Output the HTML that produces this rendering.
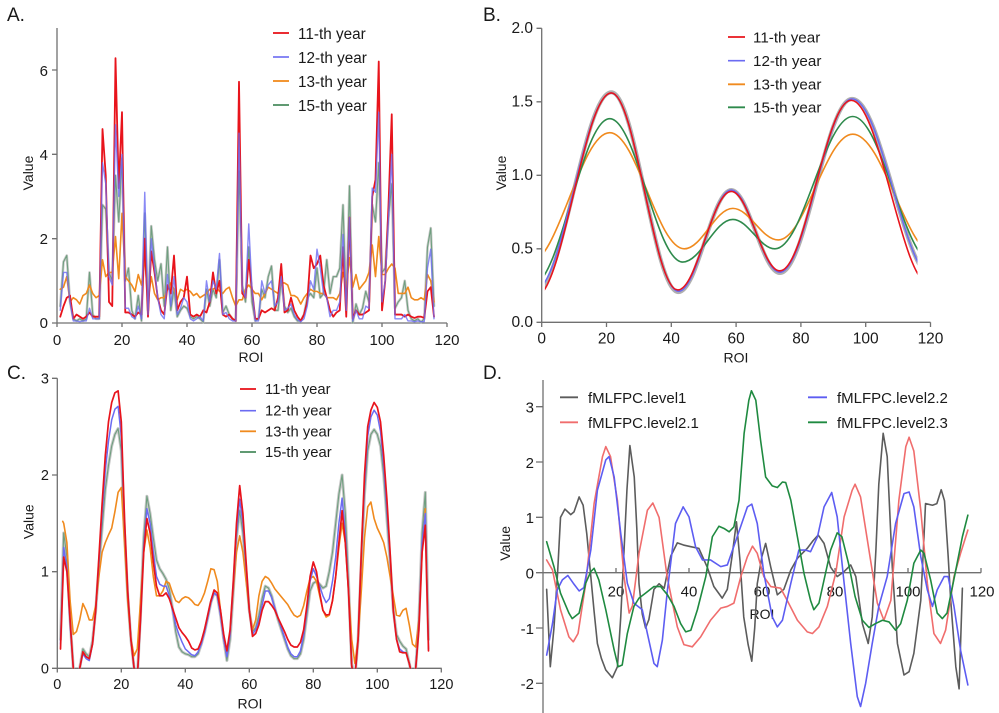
<!DOCTYPE html>
<html><head><meta charset="utf-8"><style>
html,body{margin:0;padding:0;background:#fff;}
svg{display:block;font-family:"Liberation Sans",Arial,sans-serif;fill:#1a1a1a;}
.ax{stroke:#707070;stroke-width:1.3;fill:none;}
.ln{fill:none;stroke-linejoin:round;stroke-linecap:round;vector-effect:non-scaling-stroke;}
</style></head><body>
<svg width="999" height="713" viewBox="0 0 999 713" xmlns="http://www.w3.org/2000/svg">
<defs>
<clipPath id="cA"><rect x="57" y="0" width="395" height="324"/></clipPath>
<clipPath id="cB"><rect x="544.9" y="0" width="372.6" height="330"/></clipPath>
<clipPath id="cC"><rect x="57" y="350" width="390" height="318.5"/></clipPath>
</defs>

<!-- Panel letters -->
<text x="7" y="21" font-size="19">A.</text>
<text x="483" y="21" font-size="19">B.</text>
<text x="7" y="379" font-size="19">C.</text>
<text x="483" y="379" font-size="19">D.</text>

<!-- ================= PANEL A ================= -->
<path class="ax" d="M57,28 V323 H447 M52,323 H57 M52,238.7 H57 M52,154.3 H57 M52,70 H57 M57,323 V327 M122,323 V327 M187,323 V327 M252,323 V327 M317,323 V327 M382,323 V327 M447,323 V327"/>
<g font-size="15" text-anchor="end">
<text x="48" y="328">0</text><text x="48" y="244">2</text><text x="48" y="160">4</text><text x="48" y="76">6</text>
</g>
<g font-size="15" text-anchor="middle">
<text x="57" y="345">0</text><text x="122" y="345">20</text><text x="187" y="345">40</text><text x="252" y="345">60</text><text x="317" y="345">80</text><text x="382" y="345">100</text><text x="447" y="345">120</text>
</g>
<text x="251" y="362" font-size="14" text-anchor="middle">ROI</text>
<text transform="translate(33,173) rotate(-90)" font-size="14" text-anchor="middle">Value</text>

<g clip-path="url(#cA)"><g transform="translate(57,323) scale(3.25,-42.17)">
<polyline class="ln" stroke="#bdbdbd" stroke-opacity="0.8" stroke-width="2.6" points="1,0.4 2,1.45 3,1.6 4,0.5 5,0.1 6,0.05 7,0.1 8,0.05 9,0.1 10,1.2 11,0.2 12,0.1 13,0.1 14,2.8 15,2.7 16,1.2 17,1 18,3.5 19,2.4 20,3.9 21,1 22,1.3 23,0.3 24,0.1 25,0.65 26,0.05 27,2.6 28,0.3 29,2.3 30,1.5 31,1 32,1.4 33,0.4 34,1.8 35,0.3 36,0.8 37,0.15 38,0.3 39,0.4 40,0.35 41,0.15 42,0.1 43,0.15 44,0.1 45,0.02 46,0.8 47,0.4 48,0.8 49,0.6 50,1.5 51,0.25 52,0.4 53,0.2 54,0.1 55,0.05 56,3.6 57,0.9 58,0.5 59,1.8 60,0.5 61,0.05 62,0.1 63,0.8 64,0.6 65,1.1 66,1.35 67,0.3 68,0.3 69,1 70,0.4 71,0.25 72,0.35 73,0.15 74,0.05 75,0.05 76,0.2 77,0.6 78,0.7 79,0.6 80,1.3 81,0.6 82,0.7 83,1.5 84,0.7 85,1.1 86,1.1 87,1.3 88,2.8 89,0.4 90,3.25 91,0 92,0.45 93,0.2 94,0.35 95,0.75 96,0.5 97,2.8 98,2.4 99,3.8 100,1.2 101,1.3 102,2.5 103,3.3 104,0.35 105,0.5 106,0.6 107,1 108,0.3 109,0.1 110,0.05 111,0.1 112,0.02 113,0.1 114,1.8 115,2.25 116,0.4"/>
<polyline class="ln" stroke="#6f9f7f" stroke-width="1.1" points="1,0.4 2,1.45 3,1.6 4,0.5 5,0.1 6,0.05 7,0.1 8,0.05 9,0.1 10,1.2 11,0.2 12,0.1 13,0.1 14,2.8 15,2.7 16,1.2 17,1 18,3.5 19,2.4 20,3.9 21,1 22,1.3 23,0.3 24,0.1 25,0.65 26,0.05 27,2.6 28,0.3 29,2.3 30,1.5 31,1 32,1.4 33,0.4 34,1.8 35,0.3 36,0.8 37,0.15 38,0.3 39,0.4 40,0.35 41,0.15 42,0.1 43,0.15 44,0.1 45,0.02 46,0.8 47,0.4 48,0.8 49,0.6 50,1.5 51,0.25 52,0.4 53,0.2 54,0.1 55,0.05 56,3.6 57,0.9 58,0.5 59,1.8 60,0.5 61,0.05 62,0.1 63,0.8 64,0.6 65,1.1 66,1.35 67,0.3 68,0.3 69,1 70,0.4 71,0.25 72,0.35 73,0.15 74,0.05 75,0.05 76,0.2 77,0.6 78,0.7 79,0.6 80,1.3 81,0.6 82,0.7 83,1.5 84,0.7 85,1.1 86,1.1 87,1.3 88,2.8 89,0.4 90,3.25 91,0 92,0.45 93,0.2 94,0.35 95,0.75 96,0.5 97,2.8 98,2.4 99,3.8 100,1.2 101,1.3 102,2.5 103,3.3 104,0.35 105,0.5 106,0.6 107,1 108,0.3 109,0.1 110,0.05 111,0.1 112,0.02 113,0.1 114,1.8 115,2.25 116,0.4"/>
<polyline class="ln" stroke="#f08a1e" stroke-width="1.6" points="1,0.8 2,0.85 3,1.1 4,0.5 5,0.6 6,0.55 7,0.45 8,0.65 9,0.7 10,0.9 11,0.7 12,0.6 13,0.65 14,1.5 15,1.1 16,1.2 17,1.2 18,2.05 19,1.05 20,2.6 21,1.1 22,1 23,0.9 24,0.75 25,1.15 26,0.9 27,1.55 28,0.5 29,1.1 30,0.7 31,0.55 32,0.6 33,0.6 34,0.8 35,0.95 36,0.8 37,0.55 38,0.8 39,0.75 40,0.8 41,0.75 42,0.65 43,0.7 44,0.6 45,0.65 46,0.7 47,0.8 48,0.8 49,0.85 50,0.75 51,0.7 52,0.8 53,0.85 54,0.6 55,0.4 56,0.55 57,0.55 58,0.8 59,0.9 60,0.8 61,0.7 62,0.7 63,0.55 64,0.7 65,0.85 66,0.8 67,0.75 68,0.7 69,0.95 70,0.95 71,0.9 72,0.65 73,0.65 74,0.6 75,0.45 76,0.6 77,0.7 78,0.8 79,0.75 80,0.75 81,0.7 82,0.7 83,0.6 84,0.6 85,0.6 86,0.55 87,0.7 88,1.2 89,0.85 90,1.55 91,0.85 92,1.15 93,0.8 94,0.9 95,1 96,1.2 97,1.85 98,1.1 99,2.05 100,1.15 101,1.15 102,1.3 103,1.4 104,1.3 105,0.7 106,0.7 107,0.7 108,0.85 109,0.6 110,0.55 111,0.55 112,0.6 113,0.55 114,1.15 115,1 116,0.5"/>
<polyline class="ln" stroke="#e8141c" stroke-width="1.8" points="1,0.15 2,0.4 3,0.6 4,0.65 5,0.1 6,0.2 7,0.15 8,0.1 9,0.15 10,0.25 11,0.15 12,0.15 13,0.15 14,4.6 15,3.5 16,0.5 17,0.4 18,6.28 19,3.2 20,5 21,0.25 22,0.25 23,0.2 24,0.15 25,0.25 26,0.2 27,2 28,0.15 29,1.7 30,1.2 31,0.6 32,0.3 33,0.2 34,0.9 35,0.7 36,1.6 37,0.3 38,0.5 39,0.6 40,1.1 41,0.2 42,0.15 43,0.2 44,0.15 45,0.3 46,0.25 47,0.5 48,1.2 49,0.7 50,1 51,0.2 52,0.15 53,0.2 54,0.1 55,0.05 56,5.72 57,0.7 58,0.6 59,1.5 60,0.8 61,0.1 62,0.1 63,0.3 64,0.25 65,0.3 66,0.35 67,0.3 68,0.6 69,1.4 70,0.25 71,0.3 72,0.6 73,0.3 74,0.15 75,0.05 76,0.2 77,0.5 78,1.6 79,1.3 80,1.4 81,1.6 82,0.9 83,0.6 84,0.3 85,0.15 86,0.25 87,0.3 88,1.8 89,0.15 90,2.5 91,0.1 92,0.3 93,0.2 94,0.2 95,0.25 96,0.3 97,3 98,3.4 99,6.2 100,0.3 101,1 102,2.8 103,4.95 104,0.2 105,0.2 106,0.2 107,0.15 108,0.2 109,0.15 110,0.12 111,0.15 112,0.15 113,0.12 114,0.75 115,0.85 116,0.15"/>
<polyline class="ln" stroke="#6b6bf2" stroke-opacity="0.8" stroke-width="1.4" points="1,0.3 2,1.2 3,1.2 4,0.5 5,0.05 6,0.05 7,0.03 8,0.05 9,0.05 10,0.35 11,0.1 12,0.1 13,0.1 14,3.8 15,3.3 16,1.1 17,0.9 18,4.7 19,3 20,4 21,0.35 22,0.35 23,0.15 24,0.1 25,0.4 26,0.1 27,3.1 28,0.2 29,2 30,1.3 31,0.6 32,0.2 33,0.1 34,1.15 35,0.4 36,1.1 37,0.2 38,0.35 39,0.6 40,0.5 41,0.1 42,0.05 43,0.1 44,0.15 45,0.05 46,1 47,0.5 48,1 49,0.8 50,1.65 51,0.2 52,0.25 53,0.1 54,0.05 55,0.05 56,4.5 57,0.8 58,0.6 59,2.35 60,0.8 61,0.05 62,0.05 63,1 64,0.7 65,0.9 66,1 67,0.4 68,0.5 69,1.1 70,0.3 71,0.35 72,0.45 73,0.2 74,0.08 75,0.03 76,0.1 77,0.4 78,1 79,0.8 80,1.75 81,1.3 82,0.7 83,0.6 84,0.15 85,0.3 86,0.3 87,0.5 88,2.1 89,0.3 90,2.5 91,0.05 92,0.3 93,0.1 94,0.1 95,0.4 96,0.35 97,3.2 98,3.1 99,5 100,0.5 101,1 102,2.5 103,4 104,0.1 105,0.1 106,0.1 107,0.2 108,0.05 109,0.05 110,0.03 111,0.05 112,0.03 113,0.03 114,1.3 115,1.75 116,0.1"/>
</g></g>

<g font-size="15.3">
<line x1="273" y1="33" x2="289" y2="33" stroke="#e8141c" stroke-width="1.8"/><text x="298" y="39">11-th year</text>
<line x1="273" y1="57" x2="289" y2="57" stroke="#6b6bf2" stroke-width="1.6"/><text x="298" y="63">12-th year</text>
<line x1="273" y1="81" x2="289" y2="81" stroke="#f08a1e" stroke-width="1.8"/><text x="298" y="87">13-th year</text>
<line x1="273" y1="105" x2="289" y2="105" stroke="#4f8f63" stroke-width="1.8"/><text x="298" y="111">15-th year</text>
</g>

<!-- ================= PANEL B ================= -->
<path class="ax" d="M541.7,28.3 V322.3 H930.5 M536.5,322.3 H541.7 M536.5,248.8 H541.7 M536.5,175.3 H541.7 M536.5,101.8 H541.7 M536.5,28.3 H541.7 M541.7,322.3 V327 M606.5,322.3 V327 M671.3,322.3 V327 M736.1,322.3 V327 M800.9,322.3 V327 M865.7,322.3 V327 M930.5,322.3 V327"/>
<g font-size="15.5" text-anchor="end">
<text x="533" y="327">0.0</text><text x="533" y="253.5">0.5</text><text x="533" y="180">1.0</text><text x="533" y="106.5">1.5</text><text x="533" y="33">2.0</text>
</g>
<g font-size="15.5" text-anchor="middle">
<text x="541.7" y="343.5">0</text><text x="606.5" y="343.5">20</text><text x="671.3" y="343.5">40</text><text x="736.1" y="343.5">60</text><text x="800.9" y="343.5">80</text><text x="865.7" y="343.5">100</text><text x="930.5" y="343.5">120</text>
</g>
<text x="736" y="362.7" font-size="14" text-anchor="middle">ROI</text>
<text transform="translate(506,173) rotate(-90)" font-size="14" text-anchor="middle">Value</text>

<g clip-path="url(#cB)"><g transform="translate(541.7,322.3) scale(3.24,-147)">
<path class="ln" stroke="#b0b0b0" stroke-width="4" d="M-2,0.2 C6.56,0.2 12.94,1.565 21.5,1.565 C29.04,1.565 34.66,0.205 42.2,0.205 C48.14,0.205 52.56,0.9 58.5,0.9 C63.96,0.9 68.04,0.335 73.5,0.335 C81.62,0.335 87.68,1.52 95.8,1.52 C104.98,1.52 111.82,0.3 121,0.3"/>
<path class="ln" stroke="#f08a1e" stroke-width="1.6" d="M-4,0.4 C5.11,0.4 11.89,1.29 21,1.29 C29.38,1.29 35.62,0.5 44,0.5 C49.46,0.5 53.54,0.775 59,0.775 C64.1,0.775 67.9,0.56 73,0.56 C81.38,0.56 87.62,1.28 96,1.28 C105.47,1.28 112.53,0.45 122,0.45"/>
<path class="ln" stroke="#2e8a4c" stroke-width="1.6" d="M-3,0.25 C5.74,0.25 12.26,1.385 21,1.385 C29.19,1.385 35.31,0.41 43.5,0.41 C49.15,0.41 53.35,0.7 59,0.7 C63.73,0.7 67.27,0.5 72,0.5 C80.74,0.5 87.26,1.4 96,1.4 C105.11,1.4 111.89,0.4 121,0.4"/>
<path class="ln" stroke="#6b6bf2" stroke-width="1.5" d="M-2,0.22 C6.56,0.22 12.94,1.56 21.5,1.56 C29.04,1.56 34.66,0.21 42.2,0.21 C48.14,0.21 52.56,0.9 58.5,0.9 C63.96,0.9 68.04,0.34 73.5,0.34 C81.62,0.34 87.68,1.52 95.8,1.52 C104.98,1.52 111.82,0.3 121,0.3"/>
<path class="ln" stroke="#e8141c" stroke-width="1.6" d="M-2,0.17 C6.56,0.17 12.94,1.56 21.5,1.56 C28.97,1.56 34.53,0.22 42,0.22 C48.01,0.22 52.49,0.89 58.5,0.89 C63.96,0.89 68.04,0.35 73.5,0.35 C81.51,0.35 87.49,1.51 95.5,1.51 C104.42,1.51 111.08,0.25 120,0.25"/>
</g></g>

<g font-size="15.2">
<line x1="728" y1="37" x2="745" y2="37" stroke="#e8141c" stroke-width="1.8"/><text x="753" y="42.5">11-th year</text>
<line x1="728" y1="60.7" x2="745" y2="60.7" stroke="#6b6bf2" stroke-width="1.6"/><text x="753" y="66">12-th year</text>
<line x1="728" y1="84.3" x2="745" y2="84.3" stroke="#f08a1e" stroke-width="1.8"/><text x="753" y="89.7">13-th year</text>
<line x1="728" y1="107.3" x2="745" y2="107.3" stroke="#2e8a4c" stroke-width="1.8"/><text x="753" y="112.7">15-th year</text>
</g>

<!-- ================= PANEL C ================= -->
<path class="ax" d="M57.3,378.3 V668.3 H441.7 M52,668.3 H57.3 M52,571.7 H57.3 M52,475 H57.3 M52,378.3 H57.3 M57.3,668.3 V672.5 M121.3,668.3 V672.5 M185.3,668.3 V672.5 M249.3,668.3 V672.5 M313.3,668.3 V672.5 M377.3,668.3 V672.5 M441.3,668.3 V672.5"/>
<g font-size="14.5" text-anchor="end">
<text x="49" y="673.3">0</text><text x="49" y="576.7">1</text><text x="49" y="480">2</text><text x="49" y="383.3">3</text>
</g>
<g font-size="14.5" text-anchor="middle">
<text x="57.3" y="689">0</text><text x="121.3" y="689">20</text><text x="185.3" y="689">40</text><text x="249.3" y="689">60</text><text x="313.3" y="689">80</text><text x="377.3" y="689">100</text><text x="441.3" y="689">120</text>
</g>
<text x="250" y="708.3" font-size="14" text-anchor="middle">ROI</text>
<text transform="translate(33.3,521.7) rotate(-90)" font-size="14" text-anchor="middle">Value</text>

<g clip-path="url(#cC)"><g transform="translate(57.3,668.3) scale(3.2,-96.67)">
<polyline class="ln" stroke="#bdbdbd" stroke-opacity="0.85" stroke-width="3" points="1,0.3 2,1.4 3,1.15 4,0.5 5,0 6,-0.15 7,0 8,0.2 9,0.15 10,0.12 11,0.28 12,0.6 13,1.05 14,1.45 15,1.85 16,2.1 17,2.3 18,2.42 19,2.48 20,2.25 21,1.4 22,0.75 23,0.3 24,0 25,-0.1 26,0.55 27,1.35 28,1.78 29,1.6 30,1.35 31,1.12 32,1.03 33,0.98 34,0.92 35,0.82 36,0.62 37,0.38 38,0.22 39,0.17 40,0.15 41,0.14 42,0.12 43,0.12 44,0.15 45,0.25 46,0.37 47,0.52 48,0.68 49,0.78 50,0.75 51,0.55 52,0.3 53,0.08 54,0.3 55,0.8 56,1.35 57,1.63 58,1.4 59,1 60,0.6 61,0.38 62,0.42 63,0.55 64,0.72 65,0.85 66,0.83 67,0.75 68,0.62 69,0.5 70,0.4 71,0.3 72,0.2 73,0.13 74,0.1 75,0.1 76,0.15 77,0.3 78,0.55 79,0.8 80,0.88 81,0.9 82,0.87 83,0.83 84,0.85 85,1 86,1.2 87,1.5 88,1.8 89,2 90,1.6 91,0.9 92,0.05 93,-0.1 94,0.3 95,1.1 96,1.8 97,2.25 98,2.42 99,2.47 100,2.42 101,2.3 102,2 103,1.55 104,1.1 105,0.6 106,0.35 107,0.28 108,0.23 109,0.2 110,0.05 111,-0.1 112,0 113,0.5 114,1.4 115,1.82 116,0.3"/>
<polyline class="ln" stroke="#6f9f7f" stroke-width="1.1" points="1,0.3 2,1.4 3,1.15 4,0.5 5,0 6,-0.15 7,0 8,0.2 9,0.15 10,0.12 11,0.28 12,0.6 13,1.05 14,1.45 15,1.85 16,2.1 17,2.3 18,2.42 19,2.48 20,2.25 21,1.4 22,0.75 23,0.3 24,0 25,-0.1 26,0.55 27,1.35 28,1.78 29,1.6 30,1.35 31,1.12 32,1.03 33,0.98 34,0.92 35,0.82 36,0.62 37,0.38 38,0.22 39,0.17 40,0.15 41,0.14 42,0.12 43,0.12 44,0.15 45,0.25 46,0.37 47,0.52 48,0.68 49,0.78 50,0.75 51,0.55 52,0.3 53,0.08 54,0.3 55,0.8 56,1.35 57,1.63 58,1.4 59,1 60,0.6 61,0.38 62,0.42 63,0.55 64,0.72 65,0.85 66,0.83 67,0.75 68,0.62 69,0.5 70,0.4 71,0.3 72,0.2 73,0.13 74,0.1 75,0.1 76,0.15 77,0.3 78,0.55 79,0.8 80,0.88 81,0.9 82,0.87 83,0.83 84,0.85 85,1 86,1.2 87,1.5 88,1.8 89,2 90,1.6 91,0.9 92,0.05 93,-0.1 94,0.3 95,1.1 96,1.8 97,2.25 98,2.42 99,2.47 100,2.42 101,2.3 102,2 103,1.55 104,1.1 105,0.6 106,0.35 107,0.28 108,0.23 109,0.2 110,0.05 111,-0.1 112,0 113,0.5 114,1.4 115,1.82 116,0.3"/>
<polyline class="ln" stroke="#f08a1e" stroke-width="1.6" points="1.7,1.52 2,1.5 3,1.3 4,0.7 5,0.35 6,0.38 7,0.5 8,0.67 9,0.6 10,0.5 11,0.5 12,0.65 13,0.95 14,1.2 15,1.3 16,1.38 17,1.45 18,1.62 19,1.82 20,1.87 21,1.3 22,0.7 23,0.3 24,0.13 25,0.2 26,0.7 27,1.2 28,1.43 29,1.25 30,0.95 31,0.75 32,0.75 33,0.8 34,0.9 35,0.88 36,0.78 37,0.7 38,0.68 39,0.72 40,0.74 41,0.73 42,0.7 43,0.66 44,0.65 45,0.7 46,0.78 47,0.9 48,1.03 49,1.02 50,0.9 51,0.6 52,0.3 53,0.15 54,0.35 55,0.8 56,1.2 57,1.37 58,1.2 59,0.9 60,0.6 61,0.4 62,0.5 63,0.75 64,0.9 65,0.95 66,0.93 67,0.88 68,0.82 69,0.78 70,0.74 71,0.7 72,0.66 73,0.6 74,0.55 75,0.53 76,0.55 77,0.65 78,0.8 79,0.93 80,0.95 81,0.9 82,0.75 83,0.6 84,0.53 85,0.55 86,0.7 87,0.95 88,1.25 89,1.5 90,1.3 91,0.8 92,0.3 93,0.05 94,0.3 95,0.8 96,1.35 97,1.67 98,1.72 99,1.55 100,1.45 101,1.38 102,1.3 103,1.15 104,0.95 105,0.75 106,0.55 107,0.54 108,0.6 109,0.62 110,0.45 111,0.25 112,0.22 113,0.5 114,1.2 115,1.65"/>
<polyline class="ln" stroke="#6b6bf2" stroke-width="1.5" points="1,0.25 2,1.25 3,1.05 4,0.45 5,0 6,-0.15 7,0 8,0.15 9,0.1 10,0.08 11,0.25 12,0.6 13,1.1 14,1.6 15,2.05 16,2.35 17,2.57 18,2.68 19,2.71 20,2.4 21,1.5 22,0.8 23,0.3 24,0 25,-0.1 26,0.5 27,1.25 28,1.65 29,1.5 30,1.2 31,0.95 32,0.87 33,0.85 34,0.85 35,0.75 36,0.6 37,0.45 38,0.35 39,0.27 40,0.2 41,0.17 42,0.14 43,0.13 44,0.17 45,0.25 46,0.37 47,0.52 48,0.68 49,0.78 50,0.75 51,0.55 52,0.3 53,0.12 54,0.35 55,0.85 56,1.4 57,1.75 58,1.5 59,1.05 60,0.6 61,0.35 62,0.4 63,0.5 64,0.65 65,0.8 66,0.8 67,0.73 68,0.62 69,0.52 70,0.42 71,0.32 72,0.22 73,0.15 74,0.12 75,0.12 76,0.18 77,0.35 78,0.6 79,0.9 80,1.03 81,0.95 82,0.85 83,0.75 84,0.68 85,0.72 86,0.9 87,1.15 88,1.5 89,1.76 90,1.4 91,0.8 92,0.02 93,-0.1 94,0.3 95,1.15 96,1.9 97,2.4 98,2.6 99,2.67 100,2.62 101,2.45 102,2.1 103,1.65 104,1.15 105,0.6 106,0.3 107,0.2 108,0.17 109,0.16 110,0.05 111,-0.1 112,0 113,0.45 114,1.3 115,1.6 116,0.2"/>
<polyline class="ln" stroke="#e8141c" stroke-width="1.7" points="1,0.2 2,1.15 3,1 4,0.5 5,0 6,-0.15 7,0 8,0.17 9,0.12 10,0.1 11,0.25 12,0.6 13,1.15 14,1.7 15,2.2 16,2.55 17,2.75 18,2.85 19,2.87 20,2.55 21,1.55 22,0.8 23,0.3 24,0 25,-0.1 26,0.5 27,1.2 28,1.55 29,1.4 30,1.1 31,0.85 32,0.75 33,0.75 34,0.78 35,0.72 36,0.62 37,0.52 38,0.42 39,0.37 40,0.33 41,0.28 42,0.21 43,0.19 44,0.2 45,0.28 46,0.4 47,0.55 48,0.7 49,0.81 50,0.78 51,0.6 52,0.35 53,0.18 54,0.4 55,0.9 56,1.5 57,1.89 58,1.6 59,1.1 60,0.6 61,0.33 62,0.36 63,0.45 64,0.6 65,0.69 66,0.69 67,0.65 68,0.6 69,0.52 70,0.45 71,0.38 72,0.3 73,0.24 74,0.22 75,0.22 76,0.27 77,0.4 78,0.65 79,0.95 80,1.1 81,1 82,0.78 83,0.6 84,0.55 85,0.56 86,0.7 87,0.95 88,1.3 89,1.63 90,1.3 91,0.8 92,0.02 93,-0.1 94,0.3 95,1.2 96,2 97,2.5 98,2.67 99,2.75 100,2.7 101,2.55 102,2.2 103,1.75 104,1.2 105,0.6 106,0.3 107,0.17 108,0.16 109,0.16 110,0.05 111,-0.1 112,0 113,0.4 114,1.2 115,1.48 116,0.18"/>
</g></g>

<g font-size="14.8">
<line x1="240" y1="389" x2="256" y2="389" stroke="#e8141c" stroke-width="1.8"/><text x="265" y="394">11-th year</text>
<line x1="240" y1="410.7" x2="256" y2="410.7" stroke="#6b6bf2" stroke-width="1.6"/><text x="265" y="415.7">12-th year</text>
<line x1="240" y1="431.3" x2="256" y2="431.3" stroke="#f08a1e" stroke-width="1.8"/><text x="265" y="436.3">13-th year</text>
<line x1="240" y1="452" x2="256" y2="452" stroke="#4f8f63" stroke-width="1.8"/><text x="265" y="457">15-th year</text>
</g>

<!-- ================= PANEL D ================= -->
<path class="ax" d="M543,380 V713 M543,572.7 H981 M536,406.7 H543 M536,462 H543 M536,517.3 H543 M536,572.7 H543 M536,628 H543 M536,683.3 H543 M616,572.7 V568 M689,572.7 V568 M762,572.7 V568 M835,572.7 V568 M908,572.7 V568 M981,572.7 V568"/>
<g font-size="15" text-anchor="end">
<text x="534" y="412.5">3</text><text x="534" y="467.8">2</text><text x="534" y="523.1">1</text><text x="534" y="578.5">0</text><text x="534" y="633.8">-1</text><text x="534" y="689.1">-2</text>
</g>
<g font-size="15" text-anchor="middle">
<text x="616" y="596.7">20</text><text x="689" y="596.7">40</text><text x="762" y="596.7">60</text><text x="835" y="596.7">80</text><text x="908" y="596.7">100</text><text x="982" y="596.7">120</text>
</g>
<text x="762" y="619" font-size="14" text-anchor="middle">ROI</text>
<text transform="translate(510,543.3) rotate(-90)" font-size="14" text-anchor="middle">Value</text>

<g transform="translate(543,572.7) scale(3.65,-55.3)">
<polyline class="ln" stroke="#5c5c5c" stroke-width="1.6" points="1,-0.3 2,-1.7 3,-1 4,0 4.8,1 6,1.15 7.6,1.05 8.5,1.1 9.9,1.37 11,1.22 12,0.7 13,0 14,-0.7 14.9,-1.28 16,-1.55 17.2,-1.76 19,-1.9 20.4,-1.7 21.3,-0.8 22.2,0.4 23,1.5 23.8,2.3 25,1.73 25.7,0.8 26.3,-0.2 27.2,-0.75 28.1,-1 29,-0.85 30.4,-0.3 31.8,-0.2 33.2,-0.28 35,0.3 36.8,0.54 38.5,0.5 40.5,0.47 42.7,0.44 45,0.1 46.8,-0.25 49.1,-0.46 50.5,-0.3 51.8,0.3 53,0.92 54,0.2 55,-0.8 56.2,-1.3 57.2,-1.6 58,-1 58.7,-0.2 60,0.3 61,0.53 62.4,0.1 64.2,-0.4 66,-0.3 67.9,0.05 69.7,0.26 72.4,0.44 74,0.58 75.4,0.68 77,0.53 78.8,0.1 80.6,-0.07 82.5,0.02 84.3,0.14 85.7,-0.07 87.5,-0.92 89.1,-1.28 90.2,-0.8 91.2,0.4 92,1.6 93.2,2.52 94.3,2.1 95.7,0.1 97.1,-1.28 98.9,-1.85 100.3,-1.79 101.6,-1.46 103.5,-0.5 104.2,0.4 104.8,1.25 106.7,1.22 107.9,1.25 109.1,1.5 110,1.3 111,0.3 111.7,-0.5 113.1,-1.7 114,-2.1 114.9,-0.28"/>
<polyline class="ln" stroke="#f06d6d" stroke-width="1.6" points="1,0.23 2.6,0.05 4.8,-0.67 7.1,-1.16 8.3,-1.25 9.6,-1.1 11.7,-0.2 14,1.25 16.3,2.1 17.2,2.28 18.5,2.1 20.4,1.3 22.2,-0.07 23.6,-0.73 24.5,-0.6 26.3,0.35 28.6,1.13 30.1,1.26 31.8,1 34,-0.07 36.8,-0.98 38.6,-1.3 40.9,-1.34 43.2,-1.16 45.9,-0.86 48.7,-0.64 50.5,-0.61 52.3,-0.55 54.2,-0.07 56,0.29 57.4,0.48 58.7,0.35 60.5,-0.07 62.4,-0.25 65.1,-0.28 66.9,-0.5 69.7,-0.86 72.4,-1.07 73.8,-1.1 75.6,-0.98 77.9,-0.61 80.2,-0.01 82.5,1.01 84.7,1.49 85.5,1.6 87,1.37 89.3,0.41 91.6,-0.55 93.4,-0.86 95.3,-0.5 97.5,1.31 99.4,2.28 100.3,2.45 101.6,2.2 103.5,1.13 105.3,-0.19 107.1,-1.1 108.9,-1.28 110.3,-1.04 112.6,-0.07 114.4,0.35 116.4,0.77"/>
<polyline class="ln" stroke="#5d5df2" stroke-width="1.6" points="1,-1.49 2.6,-0.92 3.9,-0.31 5.3,-0.13 6.8,-0.05 8.3,-0.19 9.9,-0.33 11.2,-0.27 13.1,0.41 14.9,1.49 17.2,2.04 18.1,2.1 19.5,1.73 21.3,0.71 23.1,-0.19 24.9,-0.55 27.2,-0.67 28.6,-1.1 30.4,-1.64 31.3,-1.7 32.7,-1.22 34.1,-0.31 36.3,0.89 38.4,1.19 40,1.01 41.8,0.47 43.7,0.23 45.9,0.23 48.7,0.11 50.5,0.14 53.2,0.65 56,1.19 57.2,1.24 58.7,0.89 60.5,-0.01 62.8,-0.8 64.2,-0.98 65.6,-0.86 67.9,-0.19 70.1,0.41 71.9,0.41 73.3,0.38 75.2,0.65 77,1.19 79.1,1.45 80.6,1.01 82.5,-0.19 84.3,-1.28 86.1,-2.24 87,-2.42 88.4,-2 90.2,-1.28 92,-0.61 94.3,-0.07 96.6,0.89 98.9,1.43 100.3,1.46 101.6,1.19 103.5,0.29 105.3,-0.31 106.7,-0.61 108,-0.31 109.9,-0.07 111,-0.07 112.6,-0.61 114.4,-1.4 116.4,-2.03"/>
<polyline class="ln" stroke="#1f8a40" stroke-width="1.6" points="1,0.56 3,0.11 4.8,-0.37 7.1,-0.73 8,-0.83 9.9,-0.73 11.7,-0.19 13.1,0.02 14,0.08 15.3,-0.13 17.2,-0.67 19.5,-1.4 20.6,-1.7 21.7,-1.67 23.1,-1.1 24.9,-0.61 26.3,-0.46 28.1,-0.37 30.4,-0.25 32.2,-0.25 34.1,-0.4 35.9,-0.61 37.7,-0.92 39.1,-1.07 40.5,-1.04 42.3,-0.67 44.6,-0.07 46.4,0.65 48.2,0.84 49.6,0.8 51,0.74 52.3,0.83 53.7,1.31 55.1,2.52 56.4,3.12 57.1,3.29 58.3,3.12 59.6,2.4 61,1.73 62.8,1.57 64.2,1.54 65.6,1.64 66.5,1.63 67.9,1.31 69.7,0.65 71.5,-0.01 73.3,-0.5 74.2,-0.67 75.6,-0.55 77,-0.13 78.8,0.41 80.6,0.72 81.9,0.65 83.7,0.17 85.5,-0.43 87.5,-0.86 89.3,-0.99 91.1,-0.92 93,-0.86 94.8,-0.89 96.6,-1.04 98,-0.92 99.8,-0.5 101.6,0.17 103.5,0.41 104.4,0.35 106.2,-0.13 108,-0.73 109.4,-0.83 110.7,-0.73 113.1,0.05 114.9,0.65 116.4,1.04"/>
</g>

<g font-size="15">
<line x1="560" y1="397.3" x2="578" y2="397.3" stroke="#5c5c5c" stroke-width="1.8"/><text x="588" y="403">fMLFPC.level1</text>
<line x1="560" y1="422.3" x2="578" y2="422.3" stroke="#f06d6d" stroke-width="1.8"/><text x="588" y="428">fMLFPC.level2.1</text>
<line x1="808" y1="397.3" x2="827" y2="397.3" stroke="#5d5df2" stroke-width="1.8"/><text x="837" y="403">fMLFPC.level2.2</text>
<line x1="808" y1="422.3" x2="827" y2="422.3" stroke="#1f8a40" stroke-width="1.8"/><text x="837" y="428">fMLFPC.level2.3</text>
</g>
</svg>
</body></html>
